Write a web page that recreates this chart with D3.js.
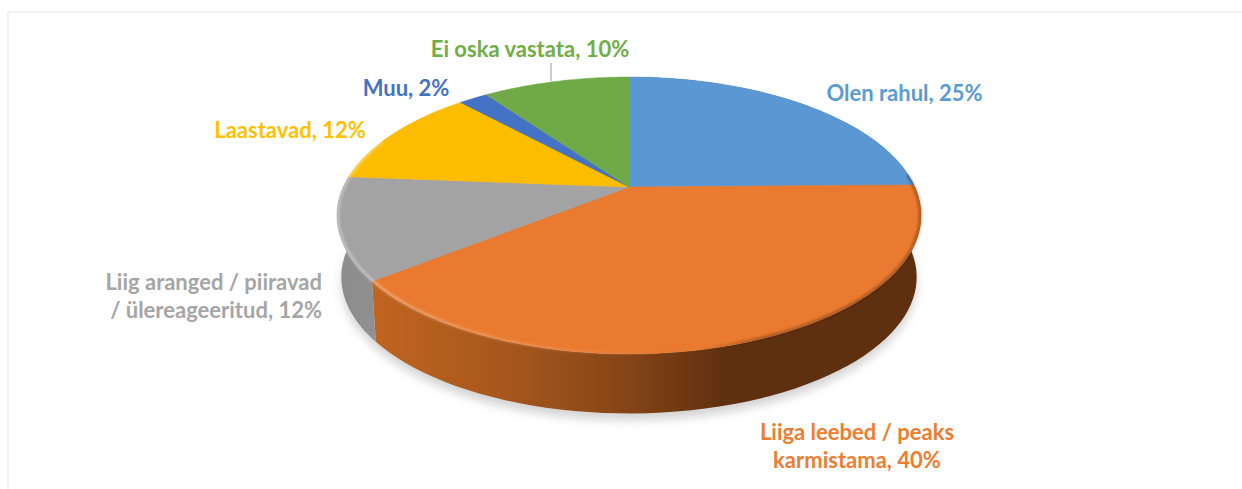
<!DOCTYPE html>
<html>
<head>
<meta charset="utf-8">
<script src="https://cdn.jsdelivr.net/npm/d3@7"></script>
<style>html,body{margin:0;padding:0;background:#fff}svg{display:block}text{font-family:Lato,"Open Sans",sans-serif;font-weight:700}</style>
</head>
<body>
<div id="chart"></div>
<script>
const categories = ["Olen rahul", "Liiga leebed / peaks karmistama", "Liig aranged / piiravad / ülereageeritud", "Laastavad", "Muu", "Ei oska vastata"];
const values = [25, 40, 12, 12, 2, 10];
const colors = ["#5B98D3", "#E97A2F", "#A3A3A3", "#FCBC00", "#4472C4", "#6FAA46"];
const textColors = ["#5B9BD5", "#ED7D31", "#A5A5A5", "#FFC000", "#4472C4", "#70AD47"];
const labelLines = [["Olen rahul, 25%"], ["Liiga leebed / peaks", "karmistama, 40%"], ["Liig aranged / piiravad", "/ ülereageeritud, 12%"], ["Laastavad, 12%"], ["Muu, 2%"], ["Ei oska vastata, 10%"]];
const labelPos = [[904.5, 101, "middle"], [857, 440, "middle"], [322, 290, "end"], [290, 138, "middle"], [406, 96, "middle"], [530, 57, "middle"]];

const W = 1242, H = 489;
const svg = d3.select("#chart").append("svg").attr("width", W).attr("height", H);
const defs = svg.append("defs");

// perspective disc: apex (cx,cy), near/far semi-axes
const cx = 629, cy = 187, k = 0.2058, A = 285.8, B = 132.6;
const project = (theta, s = 1, dy = 0) => {
  const u = Math.sin(theta), v = -Math.cos(theta), w = 1 - k * v;
  return [cx + s * A * u / w, cy + dy + s * B * v / w];
};
const depth = 62, sBottom = 0.985;
const pie = d3.pie().sort(null).value(d => d)(values);
const arcSamples = (a, b, s, dy) => d3.range(0, 61).map(i => project(a + (b - a) * i / 60, s, dy));
const line = d3.line();

// frame
svg.append("path").attr("d", line([[8, H], [8, 12], [W, 12]])).attr("fill", "none").attr("stroke", "#f2f2f2").attr("stroke-width", 2);

// filters + gradients
defs.append("filter").attr("id", "sh").attr("x", "-10%").attr("y", "-10%").attr("width", "120%").attr("height", "120%")
  .append("feGaussianBlur").attr("stdDeviation", 5);
defs.append("filter").attr("id", "soft").attr("x", "-5%").attr("y", "-5%").attr("width", "110%").attr("height", "110%")
  .append("feGaussianBlur").attr("stdDeviation", 1);
const grad = (id, stops) => {
  const g = defs.append("linearGradient").attr("id", id).attr("gradientUnits", "userSpaceOnUse")
    .attr("x1", 340).attr("x2", 920).attr("y1", 0).attr("y2", 0);
  stops.forEach(([o, c, op]) => g.append("stop").attr("offset", o).attr("stop-color", c).attr("stop-opacity", op === undefined ? 1 : op));
};
grad("wall0", [[0, "#3d5f80"], [1, "#2e4a66"]]);
grad("wall1", [[0.06, "#c0641f"], [0.3, "#a5561c"], [0.5, "#844416"], [0.66, "#5f3010"], [1, "#5f3010"]]);
grad("wall2", [[0, "#8c8c8c"], [0.07, "#909090"], [1, "#808080"]]);
grad("rimLight", [[0, "#ffffff", 0.3], [0.3, "#ffffff", 0.13], [0.5, "#ffffff", 0.04], [0.62, "#000000", 0.0], [0.72, "#000000", 0.25], [1, "#000000", 0.25]]);

// ground shadow
const fullBottom = arcSamples(0, 2 * Math.PI, sBottom, depth);
svg.append("path").attr("d", line(fullBottom) + "Z")
  .attr("transform", "translate(0,7)")
  .attr("fill", "#a8a8a8").attr("opacity", 0.5).attr("filter", "url(#sh)");

// side walls
svg.append("g").selectAll("path").data(pie).join("path")
  .attr("d", d => {
    const top = arcSamples(d.startAngle, d.endAngle, 1, 0);
    const bot = arcSamples(d.startAngle, d.endAngle, sBottom, depth).reverse();
    return line(top.concat(bot)) + "Z";
  })
  .attr("fill", (d, i) => `url(#wall${i})`)
  .attr("display", (d, i) => i < 3 ? null : "none");

// top face
svg.append("g").selectAll("path").data(pie).join("path")
  .attr("d", d => line([[cx, cy]].concat(arcSamples(d.startAngle, d.endAngle, 1, 0))) + "Z")
  .attr("fill", (d, i) => colors[i])
  .attr("stroke", (d, i) => colors[i]).attr("stroke-width", 0.5);

// bevel on near rim
svg.append("path")
  .attr("d", line(arcSamples(Math.PI * 0.47, Math.PI * 1.62, 0.997, 0)))
  .attr("fill", "none").attr("stroke", "url(#rimLight)").attr("stroke-width", 3.5).attr("filter", "url(#soft)");

// leader line
svg.append("path").attr("d", line([[551, 63], [551, 81]])).attr("stroke", "#a6a6a6").attr("stroke-width", 1.2).attr("fill", "none");

// labels
const labels = svg.append("g").selectAll("text").data(labelLines).join("text")
  .attr("x", (d, i) => labelPos[i][0]).attr("y", (d, i) => labelPos[i][1])
  .attr("text-anchor", (d, i) => labelPos[i][2])
  .attr("fill", (d, i) => textColors[i]).attr("font-size", 22);
labels.selectAll("tspan").data(d => d).join("tspan")
  .attr("x", function () { return this.parentNode.getAttribute("x"); })
  .attr("dy", (d, j) => j ? 28 : 0).text(d => d);
</script>
</body>
</html>
